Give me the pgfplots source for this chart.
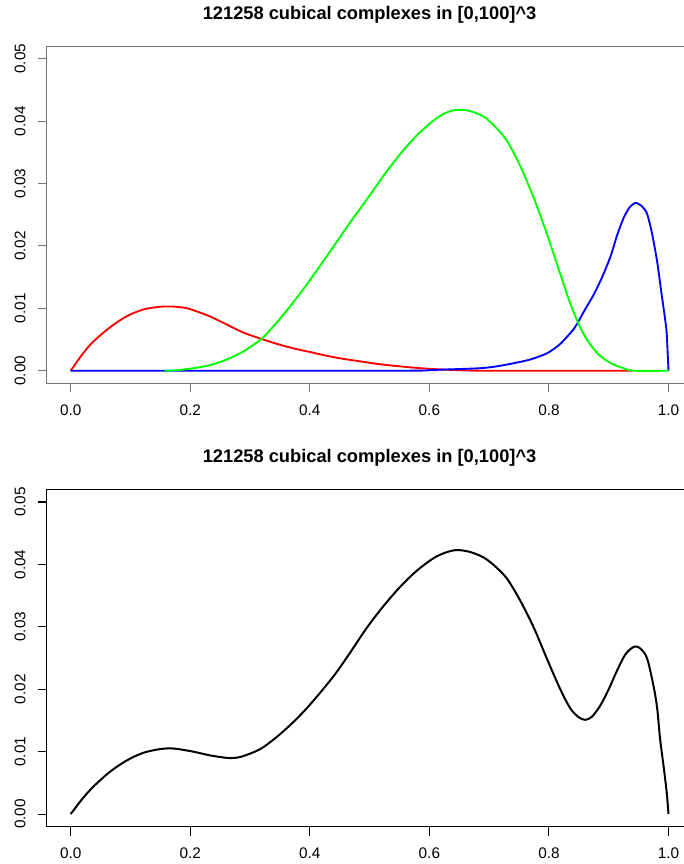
\documentclass[border=0pt]{standalone}
\usepackage{fontspec}
\setmainfont{Liberation Sans}
\usepackage{pgfplots}
\pgfplotsset{compat=1.18}
\usepackage{pgfplotstable}

\pgfplotstableread{
x y
0 0
0.02 0.0027
0.037 0.0046
0.065 0.0069
0.093 0.0087
0.121 0.0098
0.145 0.0102
0.166 0.0103
0.19 0.0101
0.205 0.0097
0.233 0.0087
0.261 0.0074
0.289 0.0061
0.319 0.0051
0.345 0.0043
0.372 0.0036
0.40 0.0030
0.428 0.0024
0.456 0.0019
0.484 0.0015
0.512 0.0011
0.540 0.0008
0.585 0.0004
0.62 0.0002
0.66 0.00005
0.70 0
0.94 0
}\red

\pgfplotstableread{
x y
0.157 0
0.18 0.0001
0.205 0.0004
0.233 0.0009
0.261 0.0018
0.289 0.0031
0.319 0.0051
0.34 0.0072
0.361 0.0096
0.384 0.0124
0.40 0.0145
0.439 0.0198
0.467 0.0237
0.495 0.0274
0.523 0.0312
0.551 0.0347
0.579 0.0377
0.607 0.0401
0.627 0.0413
0.646 0.0418
0.668 0.0416
0.691 0.0407
0.71 0.0391
0.730 0.0368
0.752 0.0328
0.775 0.0276
0.797 0.0218
0.819 0.0155
0.836 0.0107
0.853 0.0068
0.867 0.0045
0.881 0.0028
0.895 0.0017
0.908 0.0010
0.925 0.0004
0.942 0
1.0 0
}\green

\pgfplotstableread{
x y
0 0
0.55 0
0.60 0.0001
0.629 0.0002
0.685 0.0004
0.713 0.0007
0.741 0.0012
0.769 0.0018
0.797 0.0028
0.819 0.0043
0.841 0.0066
0.847 0.0075
0.861 0.0099
0.875 0.0122
0.889 0.0150
0.903 0.0183
0.914 0.0217
0.925 0.0245
0.935 0.0262
0.945 0.0269
0.955 0.0264
0.964 0.0252
0.972 0.0222
0.981 0.0175
0.989 0.0119
0.994 0.0085
0.997 0.0060
1.0 0
}\blue

\pgfplotstableread{
x y
0 0
0.02 0.0025
0.038 0.0044
0.066 0.0068
0.094 0.0086
0.121 0.0098
0.149 0.0104
0.172 0.0105
0.205 0.0100
0.233 0.0094
0.261 0.0090
0.275 0.0090
0.289 0.0093
0.317 0.0104
0.344 0.0123
0.372 0.0147
0.40 0.0175
0.439 0.0220
0.467 0.0258
0.495 0.0298
0.523 0.0333
0.551 0.0364
0.579 0.0390
0.607 0.0410
0.627 0.0419
0.646 0.0423
0.668 0.0420
0.691 0.0411
0.71 0.0397
0.730 0.0377
0.752 0.0342
0.775 0.0298
0.797 0.0248
0.819 0.0200
0.836 0.0169
0.85 0.0155
0.861 0.0151
0.872 0.0156
0.886 0.0174
0.90 0.0200
0.914 0.0230
0.928 0.0256
0.942 0.0268
0.952 0.0266
0.964 0.0250
0.975 0.0205
0.981 0.0170
0.986 0.0120
0.992 0.0075
0.997 0.0035
1.0 0
}\total

\definecolor{rred}{RGB}{255,0,0}
\definecolor{rgreen}{RGB}{0,255,0}
\definecolor{rblue}{RGB}{0,0,255}

\pgfplotsset{
  rstyle/.style={
    scale only axis,
    width=484.2pt, height=252.75pt,
    anchor=south west,
    xmin=-0.04, xmax=1.04,
    ymin=-0.002, ymax=0.052,
    scaled y ticks=false, scaled x ticks=false,
    xtick={0,0.2,0.4,0.6,0.8,1.0},
    ytick={0,0.01,0.02,0.03,0.04,0.05},
    xticklabels={0.0,0.2,0.4,0.6,0.8,1.0},
    yticklabels={0.00,0.01,0.02,0.03,0.04,0.05},
    xtick pos=bottom, ytick pos=left,
    tick align=outside,
    major tick length=6.75pt,
    axis line style={line width=0.8pt},
    every tick/.style={line width=0.8pt},
    /pgf/number format/assume math mode=true,
    tick label style={font=\fontsize{11.5}{13}\selectfont, inner sep=0pt},
    xticklabel style={anchor=north, yshift=-9.2pt},
    yticklabel style={rotate=90, anchor=south, yshift=9.1pt},
    clip=false,
  }
}

\begin{document}
\begin{tikzpicture}
\begin{axis}[rstyle, at={(35.1pt,360.6pt)},
  axis line style={line width=0.8pt, black!55},
  every tick/.style={line width=0.8pt, black!55}]
  \addplot[rred, line width=1.4pt, smooth, tension=0.5] table[x=x,y=y] {\red};
  \addplot[rblue, line width=1.4pt, smooth, tension=0.4] table[x=x,y=y] {\blue};
  \addplot[rgreen, line width=1.4pt, smooth, tension=0.5] table[x=x,y=y] {\green};
  \node[font=\bfseries\fontsize{13.7}{16}\selectfont] at (rel axis cs:0.5,1) [yshift=23.5pt] {121258 cubical complexes in [0,100]\^{}3};
\end{axis}
\begin{axis}[rstyle, at={(35.1pt,28.1pt)}]
  \addplot[black, line width=1.5pt, smooth, tension=0.5] table[x=x,y=y] {\total};
  \node[font=\bfseries\fontsize{13.7}{16}\selectfont] at (rel axis cs:0.5,1) [yshift=23.5pt] {121258 cubical complexes in [0,100]\^{}3};
\end{axis}
\pgfresetboundingbox
\useasboundingbox (0,0) rectangle (513pt,648pt);
\end{tikzpicture}
\end{document}
